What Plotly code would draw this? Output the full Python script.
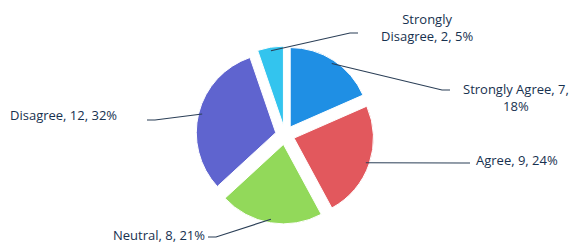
import numpy as np
import plotly.graph_objects as go

categories = ["Strongly Agree", "Agree", "Neutral", "Disagree", "Strongly Disagree"]
counts = [7, 9, 8, 12, 2]
percent_labels = ["18%", "24%", "21%", "32%", "5%"]
colors = ["#1f8fe4", "#e2585d", "#92d95a", "#5f64cf", "#33c4ee"]

W, H = 585, 245
OFF = 8  # page body margin: page pixel p sits at figure pixel p - OFF
cx, cy, R = 285 - OFF, 135 - OFF, 89   # pixel geometry of the pie (outer extent incl. pull)
pull = 0.12


def fx(p):
    return (p - OFF) / W


def fy(p):
    return 1 - (p - OFF) / H


fig = go.Figure(go.Pie(
    labels=categories, values=counts, sort=False, direction="clockwise", rotation=0,
    pull=[pull] * len(counts), textinfo="none", hoverinfo="label+value+percent",
    marker=dict(colors=colors, line=dict(color="white", width=1)),
    domain=dict(x=[(cx - R) / W, (cx + R) / W], y=[1 - (cy + R) / H, 1 - (cy - R) / H]),
    showlegend=False,
))

# label boxes in page pixels: (text, x, y, xanchor, line end x, line end y)
label_specs = [
    (f"{categories[0]}, {counts[0]},<br>{percent_labels[0]}", 516, 98, "center", 450, 90),
    (f"{categories[1]}, {counts[1]}, {percent_labels[1]}", 474, 160, "left", 470, 163),
    (f"{categories[2]}, {counts[2]}, {percent_labels[2]}", 207, 235, "right", 208, 237),
    (f"{categories[3]}, {counts[3]}, {percent_labels[3]}", 8, 115, "left", 147, 120),
    (f"Strongly<br>Disagree, {counts[4]}, {percent_labels[4]}", 427, 27, "center", 358, 33),
]

total = sum(counts)
cum = np.cumsum([0] + counts)
shapes, annotations = [], []
for i, (txt, tx, ty, xa, ex, ey) in enumerate(label_specs):
    mid = 2 * np.pi * (cum[i] + counts[i] / 2) / total
    px = cx + OFF + 0.96 * R * np.sin(mid)
    py = cy + OFF - 0.96 * R * np.cos(mid)
    elbow = ex + (8 if ex < px else -8)
    path = f"M {fx(px)},{fy(py)} L {fx(elbow)},{fy(ey)} L {fx(ex)},{fy(ey)}"
    shapes.append(dict(type="path", xref="paper", yref="paper", path=path,
                       line=dict(color="#2b3f57", width=1.2)))
    annotations.append(dict(text=txt, x=fx(tx), y=fy(ty), xref="paper", yref="paper",
                            xanchor=xa, yanchor="middle", showarrow=False, align="center",
                            font=dict(family="Open Sans", size=13, color="#17314f")))

fig.update_layout(width=W, height=H, margin=dict(l=0, r=0, t=0, b=0),
                  paper_bgcolor="white", plot_bgcolor="white",
                  shapes=shapes, annotations=annotations)
fig.write_html("out.html")
